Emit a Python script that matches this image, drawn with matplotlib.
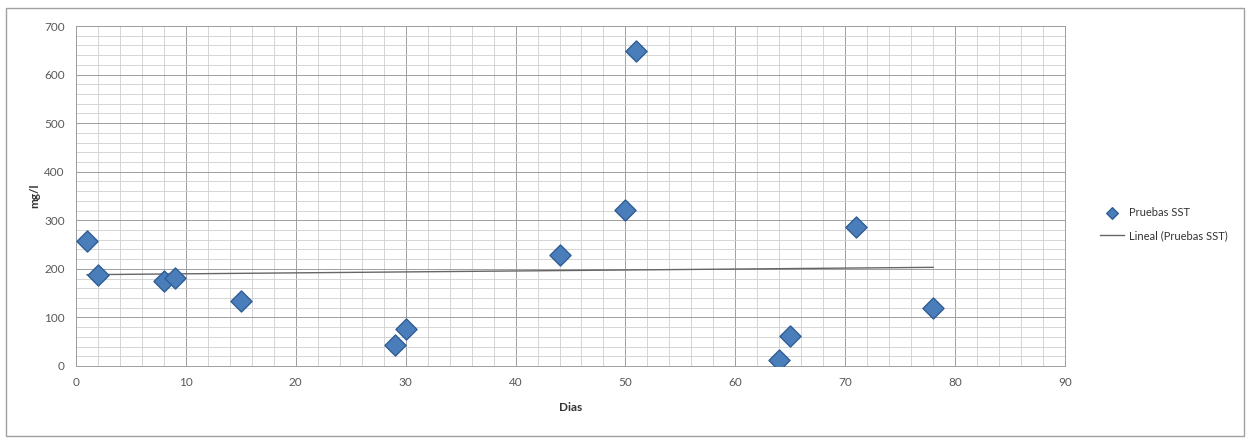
import matplotlib.pyplot as plt
import matplotlib.patches as patches
from matplotlib.ticker import MultipleLocator
import numpy as np

dias = [1, 2, 8, 9, 15, 29, 30, 44, 50, 51, 64, 65, 71, 78]
sst = [257, 188, 176, 182, 133, 43, 76, 228, 321, 648, 12, 62, 286, 119]

serie = "Pruebas SST"
tendencia = "Lineal (Pruebas SST)"

plt.rcParams['font.family'] = ['Lato', 'DejaVu Sans']

fig = plt.figure(figsize=(12.5, 4.4), dpi=100)
ax = fig.add_axes([76/1250, 1-366/440, (1065-76)/1250, (366-26)/440])

# trend line from a least squares fit of the points
m, b = np.polyfit(dias, sst, 1)
xt = np.array([min(dias), max(dias)])
ax.plot(xt, m*xt + b, color='#666666', lw=1.0, label=tendencia, zorder=3)

ax.scatter(dias, sst, marker='D', s=115, color='#4a7ebb', edgecolors='#2f5d94',
           linewidths=1.0, label=serie, zorder=4)

ax.set_xlim(0, 90)
ax.set_ylim(0, 700)
ax.xaxis.set_major_locator(MultipleLocator(10))
ax.xaxis.set_minor_locator(MultipleLocator(2))
ax.yaxis.set_major_locator(MultipleLocator(100))
ax.yaxis.set_minor_locator(MultipleLocator(20))
ax.grid(which='major', color='#9e9e9e', lw=0.7)
ax.grid(which='minor', color='#cfcfcf', lw=0.6)
ax.set_axisbelow(True)
for s in ax.spines.values():
    s.set_color('#9e9e9e')
    s.set_linewidth(0.7)
ax.tick_params(which='both', length=0, labelsize=8.5, labelcolor='#595959', pad=8)

ax.set_xlabel("Dias", fontsize=8.5, fontweight='bold', color='#333333', labelpad=10)
ax.set_ylabel("mg/l", fontsize=8.5, fontweight='bold', color='#333333', labelpad=3)

# reorder legend: points first, then trend
h, l = ax.get_legend_handles_labels()
fig.legend([h[1], h[0]], [l[1], l[0]], loc='upper left', bbox_to_anchor=(1090/1250, 1-197/440),
           frameon=False, fontsize=8, handlelength=2.2, labelspacing=1.1, markerscale=0.55,
           handletextpad=0.4, labelcolor='#333333')

fig.patches.append(patches.Rectangle((6/1250, 0.01), 1-12/1250, 1-8/440-0.01, transform=fig.transFigure,
                                     fill=False, edgecolor='#a0a0a0', lw=1.0))

fig.savefig("out.png", dpi=100)
